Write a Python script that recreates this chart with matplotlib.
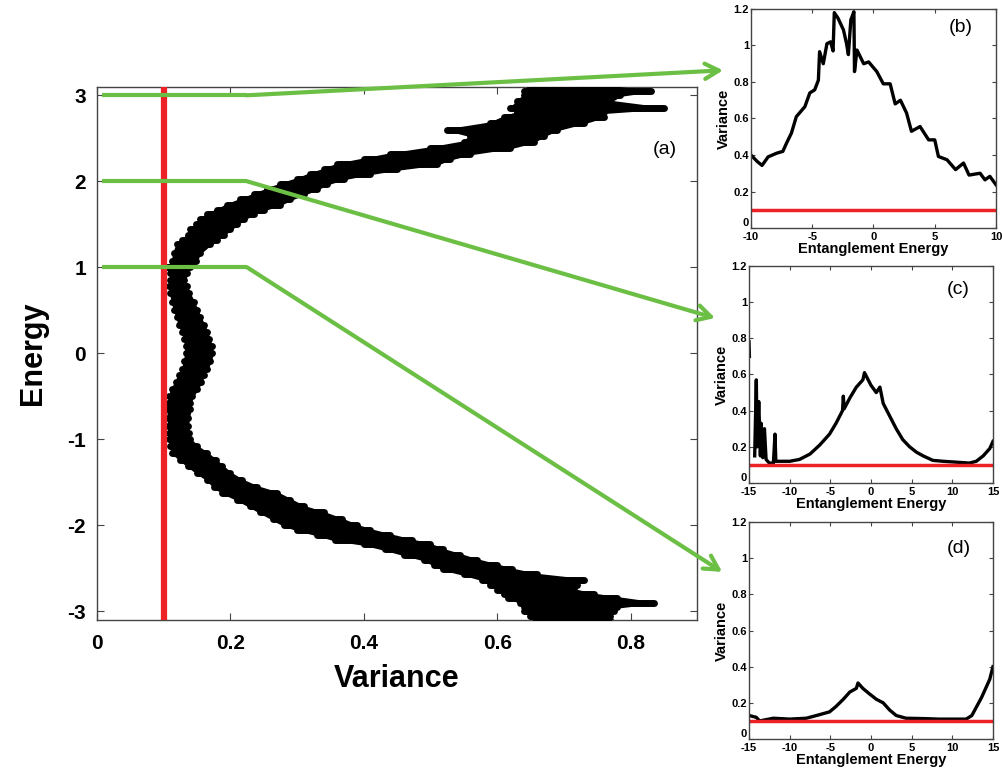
import matplotlib
matplotlib.use('Agg')
import numpy as np
import matplotlib.pyplot as plt
from matplotlib.patches import ConnectionPatch

plt.rcParams['font.family'] = ['Liberation Sans', 'DejaVu Sans']
plt.rcParams['axes.unicode_minus'] = False

RED = '#ec2227'
GREEN = '#6cbf45'

# main panel (a): energy vs variance band (lower / upper edge of the point cloud)
band_E = [3.1, 3.05, 3.0, 2.93, 2.85, 2.8, 2.75, 2.68, 2.6, 2.53, 2.46, 2.39, 2.32,
          2.26, 2.2, 2.14, 2.09, 2.03, 1.97, 1.91, 1.85, 1.79, 1.73, 1.67, 1.62,
          1.56, 1.5, 1.44, 1.38, 1.32, 1.27, 1.17, 1.07, 1.0, 0.93, 0.85, 0.78,
          0.7, 0.6, 0.5, 0.42, 0.33, 0.25, 0.17, 0.08, 0.0, -0.09, -0.18, -0.25,
          -0.33, -0.42, -0.5, -0.58, -0.65, -0.75, -0.85, -0.93, -1.0, -1.08,
          -1.16, -1.24, -1.31, -1.39, -1.47, -1.55, -1.62, -1.7, -1.78, -1.85,
          -1.93, -2.0, -2.05, -2.11, -2.17, -2.22, -2.28, -2.34, -2.4, -2.46,
          -2.51, -2.57, -2.63, -2.69, -2.75, -2.8, -2.84, -2.9, -2.95, -3.0,
          -3.05, -3.1]
band_lo = [0.65, 0.64, 0.64, 0.63, 0.62, 0.63, 0.61, 0.59, 0.525, 0.56, 0.55, 0.50,
           0.44, 0.40, 0.36, 0.34, 0.32, 0.30, 0.275, 0.255, 0.235, 0.215, 0.195,
           0.18, 0.165, 0.155, 0.148, 0.14, 0.136, 0.128, 0.12, 0.115, 0.113,
           0.105, 0.11, 0.11, 0.108, 0.11, 0.113, 0.116, 0.12, 0.123, 0.128,
           0.131, 0.133, 0.133, 0.131, 0.128, 0.123, 0.118, 0.112, 0.108, 0.107,
           0.106, 0.107, 0.107, 0.108, 0.108, 0.11, 0.113, 0.125, 0.136, 0.15,
           0.165, 0.175, 0.188, 0.21, 0.229, 0.245, 0.264, 0.28, 0.30, 0.33,
           0.357, 0.40, 0.432, 0.46, 0.49, 0.505, 0.519, 0.55, 0.577, 0.59, 0.60,
           0.61, 0.617, 0.635, 0.64, 0.64, 0.65, 0.655]
band_hi = [0.77, 0.83, 0.785, 0.77, 0.85, 0.76, 0.76, 0.73, 0.69, 0.67, 0.655, 0.62,
           0.56, 0.53, 0.51, 0.45, 0.41, 0.37, 0.345, 0.33, 0.31, 0.29, 0.275,
           0.25, 0.235, 0.22, 0.21, 0.2, 0.19, 0.18, 0.17, 0.155, 0.148, 0.14,
           0.135, 0.131, 0.135, 0.138, 0.145, 0.15, 0.155, 0.16, 0.165, 0.168,
           0.172, 0.173, 0.17, 0.165, 0.16, 0.156, 0.15, 0.143, 0.14, 0.14,
           0.137, 0.136, 0.138, 0.14, 0.15, 0.165, 0.178, 0.188, 0.2, 0.217,
           0.24, 0.27, 0.29, 0.31, 0.34, 0.368, 0.39, 0.41, 0.44, 0.472, 0.50,
           0.519, 0.545, 0.57, 0.60, 0.623, 0.66, 0.73, 0.72, 0.716, 0.745, 0.78,
           0.835, 0.78, 0.775, 0.77, 0.77]

threshold = 0.1
zoom_energies = [3, 2, 1]

# panel (b)
b_x = [-10, -9.5, -9.1, -8.6, -7.9, -7.4, -7.1, -6.7, -6.3, -5.6, -5.2, -4.8, -4.5,
       -4.4, -4.1, -3.8, -3.5, -3.3, -3.2, -2.9, -2.45, -2.2, -2.05, -1.85, -1.6,
       -1.55, -1.35, -0.8, -0.4, 0.27, 0.8, 1.36, 1.77, 2.2, 2.7, 3.1, 3.8, 4.5,
       5.0, 5.3, 6.0, 6.7, 7.35, 7.8, 8.7, 9.1, 9.5, 10]
b_y = [0.40, 0.365, 0.343, 0.39, 0.41, 0.42, 0.465, 0.52, 0.61, 0.665, 0.74, 0.757,
       0.81, 0.966, 0.90, 1.01, 1.02, 0.97, 1.18, 1.15, 1.085, 1.01, 0.95, 1.14,
       1.185, 0.857, 0.975, 0.90, 0.91, 0.857, 0.79, 0.79, 0.68, 0.70, 0.63, 0.53,
       0.556, 0.483, 0.483, 0.392, 0.374, 0.32, 0.356, 0.29, 0.30, 0.264, 0.283,
       0.237]

# panel (c)
c_x = [-15, -14.95, np.nan, -14.3, -14.1, -14.0, -13.8, -13.6, -13.5, -13.3, -13.1,
       -12.9, -12.5, -12.0, -11.8, -11.7, -11.2, -10, -8.8, -7.5, -6.3, -5.1, -4.3,
       -3.5, -3.4, -3.3, -2.6, -1.8, -1.0, -0.8, 0.0, 0.65, 1.1, 1.5, 2.3, 3.1,
       3.9, 4.75, 5.6, 6.4, 7.6, 8.85, 10.5, 12.1, 12.95, 13.8, 14.6, 15]
c_y = [0.78, 0.70, np.nan, 0.15, 0.57, 0.2, 0.45, 0.15, 0.33, 0.14, 0.30, 0.13,
       0.11, 0.11, 0.27, 0.12, 0.12, 0.12, 0.13, 0.16, 0.21, 0.27, 0.33, 0.40,
       0.48, 0.41, 0.47, 0.53, 0.57, 0.61, 0.54, 0.50, 0.53, 0.44, 0.37, 0.30,
       0.24, 0.20, 0.17, 0.15, 0.125, 0.12, 0.115, 0.11, 0.12, 0.15, 0.19, 0.23]

# panel (d)
d_x = [-15, -14.1, -13.7, -12, -10, -7.95, -6.7, -5.9, -5.1, -4.3, -3.4, -2.6,
       -1.8, -1.6, -1.0, -0.2, 0.65, 1.5, 2.3, 3.1, 4.3, 6.4, 8.4, 10.5, 11.7,
       12.4, 13.0, 13.6, 14.2, 14.6, 15]
d_y = [0.13, 0.12, 0.10, 0.115, 0.11, 0.115, 0.13, 0.14, 0.15, 0.18, 0.22, 0.26,
       0.28, 0.31, 0.28, 0.25, 0.22, 0.20, 0.16, 0.13, 0.115, 0.113, 0.11, 0.11,
       0.11, 0.13, 0.18, 0.23, 0.29, 0.33, 0.40]

insets = [
    ('(b)', b_x, b_y, (-10, 10), [-10, -5, 0, 5, 10], (7.1, 1.1),
     [0.7495, 0.7054, 0.2445, 0.283], (-0.114, 0.72)),
    ('(c)', c_x, c_y, (-15, 15), [-15, -10, -5, 0, 5, 10, 15], (10.7, 1.07),
     [0.7475, 0.376, 0.2435, 0.2804], (-0.139, 0.76)),
    ('(d)', d_x, d_y, (-15, 15), [-15, -10, -5, 0, 5, 10, 15], (10.8, 1.055),
     [0.7475, 0.0452, 0.2435, 0.2804], (-0.11, 0.77)),
]


def style_axes(ax, size, length):
    ax.tick_params(direction='in', top=True, right=True, length=length,
                   width=0.8, color='#444444', labelsize=size, pad=3)
    for lab in ax.get_xticklabels() + ax.get_yticklabels():
        lab.set_fontweight('bold')
    for s in ax.spines.values():
        s.set_color('#444444')
        s.set_linewidth(1.0)


fig = plt.figure(figsize=(10.02, 7.74), dpi=100)
ax = fig.add_axes([0.0968, 0.199, 0.599, 0.689])

# the point cloud: solid body plus thick rounded rows, like stacked markers
ax.fill_betweenx(band_E, band_lo, band_hi, color='k', lw=1.5, edgecolor='k', zorder=3)
rows = ax.hlines(band_E, band_lo, band_hi, color='k', lw=5, zorder=3)
rows.set_capstyle('round')
ax.axvline(threshold, color=RED, lw=4.5, zorder=4)
ax.set_xlim(0, 0.9)
ax.set_ylim(-3.1, 3.1)
ax.set_xticks([0, 0.2, 0.4, 0.6, 0.8])
ax.set_xticklabels(['0', '0.2', '0.4', '0.6', '0.8'])
ax.set_yticks([-3, -2, -1, 0, 1, 2, 3])
style_axes(ax, 15, 5)
ax.tick_params(axis='x', pad=10)
ax.tick_params(axis='y', pad=8)
ax.set_xlabel('Variance', fontsize=22, fontweight='bold', labelpad=8)
ax.set_ylabel('Energy', fontsize=22, fontweight='bold', labelpad=14)
ax.text(0.851, 2.37, '(a)', fontsize=14, ha='center', va='center')

inset_axes = []
for label, xs, ys, xlim, xticks, lab_pos, rect, tip in insets:
    ia = fig.add_axes(rect)
    ia.plot(xs, ys, color='k', lw=2.4)
    ia.axhline(threshold, color=RED, lw=2.5)
    ia.set_xlim(*xlim)
    ia.set_ylim(0, 1.2)
    ia.set_xticks(xticks)
    ia.set_yticks([0, 0.2, 0.4, 0.6, 0.8, 1, 1.2])
    ia.set_yticklabels(['0', '0.2', '0.4', '0.6', '0.8', '1', '1.2'])
    style_axes(ia, 8, 3)
    ia.tick_params(axis='y', pad=1.5)
    ia.tick_params(axis='x', pad=3)
    ia.get_yticklabels()[0].set_va('bottom')
    ia.set_xlabel('Entanglement Energy', fontsize=10.5, fontweight='bold', labelpad=0)
    ia.set_ylabel('Variance', fontsize=10.5, fontweight='bold', labelpad=2)
    ia.text(lab_pos[0], lab_pos[1], label, fontsize=14, ha='center', va='center')
    inset_axes.append(ia)

# green zoom connectors
for E, (label, xs, ys, xlim, xticks, lab_pos, rect, tip), ia in zip(zoom_energies, insets, inset_axes):
    ax.plot([0.008, 0.225], [E, E], color=GREEN, lw=3, solid_capstyle='butt',
            zorder=5, clip_on=False)
    con = ConnectionPatch(xyA=(0.225, E), coordsA=ax.transData,
                          xyB=tip, coordsB=ia.transAxes,
                          arrowstyle='->,head_length=1.0,head_width=0.55',
                          color=GREEN, lw=3, zorder=6)
    fig.add_artist(con)

fig.savefig('out.png', dpi=100)
